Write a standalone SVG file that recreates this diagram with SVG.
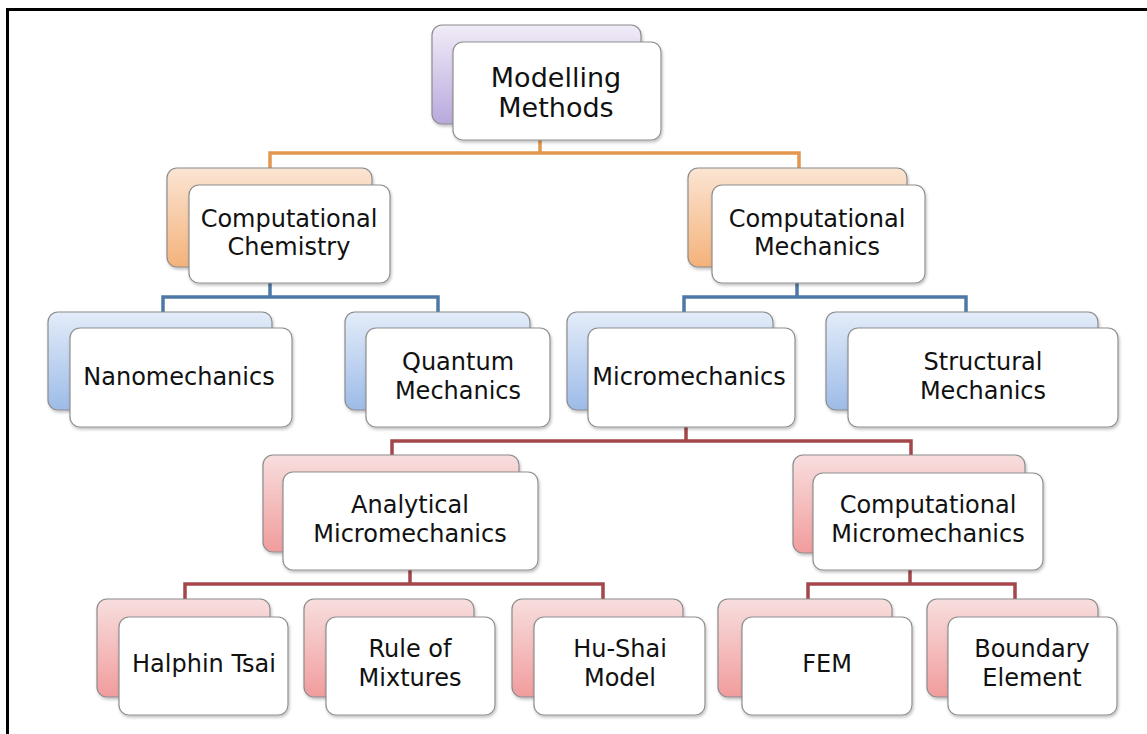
<svg xmlns="http://www.w3.org/2000/svg" width="1147" height="734" viewBox="0 0 1147 734">
<defs>
<linearGradient id="gP" x1="0" y1="0" x2="0" y2="1"><stop offset="0" stop-color="#f1ecf8"/><stop offset="1" stop-color="#b9a9dd"/></linearGradient>
<linearGradient id="gO" x1="0" y1="0" x2="0" y2="1"><stop offset="0" stop-color="#fbe5d3"/><stop offset="1" stop-color="#f4b27a"/></linearGradient>
<linearGradient id="gB" x1="0" y1="0" x2="0" y2="1"><stop offset="0" stop-color="#e3ecf9"/><stop offset="1" stop-color="#9dbbe8"/></linearGradient>
<linearGradient id="gR" x1="0" y1="0" x2="0" y2="1"><stop offset="0" stop-color="#f8dede"/><stop offset="1" stop-color="#f19c9c"/></linearGradient>
<filter id="sh" x="-10%" y="-10%" width="120%" height="130%"><feDropShadow dx="1" dy="2" stdDeviation="1.5" flood-color="#000" flood-opacity="0.25"/></filter>
</defs>
<style>
.back{stroke:#8c8c8c;stroke-width:1.2;filter:url(#sh)}
.front{fill:#ffffff;stroke:#8f8f8f;stroke-width:1.2;filter:url(#sh)}
.t{font-family:"DejaVu Sans","Liberation Sans",sans-serif;font-size:24px;fill:#111111;text-anchor:middle}
.tb{font-size:27px}
.c{fill:none;stroke-width:3.5;stroke-linejoin:miter}
</style>
<rect width="1147" height="734" fill="#ffffff"/>
<path d="M7.5,734 V9.5 H1147" fill="none" stroke="#000" stroke-width="3"/>
<g id="connectors">
<path class="c" stroke="#e3964f" d="M540,140 V153 M270,172 V153 H799 V172"/>
<path class="c" stroke="#4e79a6" d="M270,283 V297 M163,313 V297 H438 V313"/>
<path class="c" stroke="#4e79a6" d="M797,283 V297 M684,313 V297 H966 V313"/>
<path class="c" stroke="#a3474b" d="M686,427 V441 M392,456 V441 H911 V456"/>
<path class="c" stroke="#a3474b" d="M410,570 V584 M185,600 V584 H603 V600"/>
<path class="c" stroke="#a3474b" d="M910,570 V584 M808,600 V584 H1015 V600"/>
</g>
<g id="n-modelling">
<rect class="back" x="432" y="25" width="209" height="99" rx="10" fill="url(#gP)"/>
<rect class="front" x="453" y="42" width="208" height="98" rx="10"/>
<text class="t tb" x="556" y="87">Modelling</text>
<text class="t tb" x="556" y="117">Methods</text>
</g>
<g id="n-compchem">
<rect class="back" x="167" y="168" width="205" height="99" rx="10" fill="url(#gO)"/>
<rect class="front" x="189" y="185" width="201" height="98" rx="10"/>
<text class="t" x="289" y="227">Computational</text>
<text class="t" x="289" y="255">Chemistry</text>
</g>
<g id="n-compmech">
<rect class="back" x="688" y="168" width="219" height="99" rx="10" fill="url(#gO)"/>
<rect class="front" x="712" y="185" width="213" height="98" rx="10"/>
<text class="t" x="817" y="227">Computational</text>
<text class="t" x="817" y="255">Mechanics</text>
</g>
<g id="n-nano">
<rect class="back" x="48" y="312" width="224" height="98" rx="10" fill="url(#gB)"/>
<rect class="front" x="70" y="328" width="222" height="99" rx="10"/>
<text class="t" x="179" y="385">Nanomechanics</text>
</g>
<g id="n-quantum">
<rect class="back" x="345" y="312" width="185" height="98" rx="10" fill="url(#gB)"/>
<rect class="front" x="366" y="328" width="184" height="99" rx="10"/>
<text class="t" x="458" y="370">Quantum</text>
<text class="t" x="458" y="399">Mechanics</text>
</g>
<g id="n-micro">
<rect class="back" x="567" y="312" width="206" height="98" rx="10" fill="url(#gB)"/>
<rect class="front" x="588" y="328" width="207" height="99" rx="10"/>
<text class="t" x="689" y="385">Micromechanics</text>
</g>
<g id="n-structural">
<rect class="back" x="826" y="312" width="272" height="98" rx="10" fill="url(#gB)"/>
<rect class="front" x="848" y="328" width="270" height="99" rx="10"/>
<text class="t" x="983" y="370">Structural</text>
<text class="t" x="983" y="399">Mechanics</text>
</g>
<g id="n-analytical">
<rect class="back" x="263" y="455" width="256" height="97" rx="10" fill="url(#gR)"/>
<rect class="front" x="283" y="472" width="255" height="98" rx="10"/>
<text class="t" x="410" y="513">Analytical</text>
<text class="t" x="410" y="542">Micromechanics</text>
</g>
<g id="n-compmicro">
<rect class="back" x="793" y="455" width="232" height="98" rx="10" fill="url(#gR)"/>
<rect class="front" x="813" y="473" width="230" height="97" rx="10"/>
<text class="t" x="928" y="513">Computational</text>
<text class="t" x="928" y="542">Micromechanics</text>
</g>
<g id="n-halphin">
<rect class="back" x="97" y="599" width="173" height="98" rx="10" fill="url(#gR)"/>
<rect class="front" x="119" y="617" width="169" height="98" rx="10"/>
<text class="t" x="204" y="672">Halphin Tsai</text>
</g>
<g id="n-rule">
<rect class="back" x="304" y="599" width="170" height="98" rx="10" fill="url(#gR)"/>
<rect class="front" x="326" y="617" width="169" height="98" rx="10"/>
<text class="t" x="410" y="657">Rule of</text>
<text class="t" x="410" y="686">Mixtures</text>
</g>
<g id="n-hushai">
<rect class="back" x="512" y="599" width="171" height="98" rx="10" fill="url(#gR)"/>
<rect class="front" x="534" y="617" width="171" height="98" rx="10"/>
<text class="t" x="620" y="657">Hu-Shai</text>
<text class="t" x="620" y="686">Model</text>
</g>
<g id="n-fem">
<rect class="back" x="718" y="599" width="174" height="98" rx="10" fill="url(#gR)"/>
<rect class="front" x="742" y="617" width="170" height="98" rx="10"/>
<text class="t" x="827" y="672">FEM</text>
</g>
<g id="n-boundary">
<rect class="back" x="927" y="599" width="171" height="98" rx="10" fill="url(#gR)"/>
<rect class="front" x="948" y="617" width="169" height="98" rx="10"/>
<text class="t" x="1032" y="657">Boundary</text>
<text class="t" x="1032" y="686">Element</text>
</g>
</svg>
